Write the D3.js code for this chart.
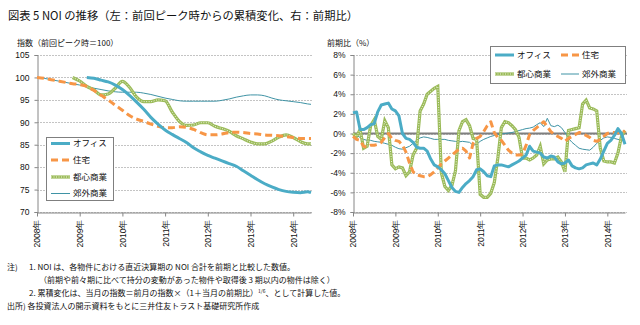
<!DOCTYPE html>
<html lang="ja">
<head>
<meta charset="utf-8">
<script src="https://cdn.jsdelivr.net/npm/d3@7"></script>
<style>
  html, body { margin: 0; padding: 0; background: #fff; }
  svg { display: block; }
  text { font-family: 'Noto Sans CJK JP', sans-serif; fill: #111; }
  .num text, text.num { font-family: 'Liberation Sans', Arial, sans-serif; }
  .note { font-family: 'Liberation Serif', 'Noto Sans CJK JP', serif; }
</style>
</head>
<body>
<div class="js-container"></div>
<script>
;(function() {
  'use strict';

  // month index: 0 = 2008年1月
  var leftMonths = [0, 2, 4, 6, 8, 10, 12, 14, 16, 18, 20, 22, 24, 26, 28, 30, 32, 34, 36, 38,
                    40, 42, 44, 46, 48, 50, 52, 54, 56, 58, 60, 62, 64, 66, 68, 70, 72, 74, 76, 77];
  var rightMonths = d3.range(78);

  var yearMonths = [0, 12, 24, 36, 48, 60, 72];
  var yearLabels = ['2008年', '2009年', '2010年', '2011年', '2012年', '2013年', '2014年'];

  var seriesNames = ['オフィス', '住宅', '都心商業', '郊外商業'];

  // 累積変化の指数（前回ピーク時＝100）
  var officeIdx = [null, null, null, null, null, null, null, 100.0, 99.8, 99.4, 99.0, 98.3, 97.3, 96.0, 94.5, 92.9, 91.1, 89.6, 88.3, 87.3,
                   86.4, 85.5, 84.3, 83.4, 82.6, 82.0, 81.4, 80.8, 80.2, 79.2, 78.2, 77.2, 76.3, 75.6, 75.0, 74.6, 74.4, 74.3, 74.5, 74.3];
  var residentialIdx = [100.0, 99.8, 99.5, 99.2, 98.9, 98.6, 98.4, 98.0, 97.1, 96.0, 95.0, 93.8, 92.7, 91.5, 90.7, 90.2, 89.6, 89.1, 88.8, 88.8,
                        89.0, 88.9, 88.4, 87.7, 87.2, 87.2, 87.4, 87.7, 87.8, 87.7, 87.5, 87.4, 87.2, 87.1, 87.0, 86.8, 86.6, 86.4, 86.4, 86.4];
  var urbanIdx = [null, null, null, null, null, 100.0, 99.2, 98.0, 97.2, 96.1, 96.3, 97.6, 99.1, 97.8, 95.6, 94.6, 94.6, 95.0, 94.8, 92.3,
                  90.2, 89.3, 89.4, 89.9, 89.9, 89.1, 88.6, 88.0, 87.0, 86.3, 85.6, 85.2, 85.2, 85.8, 86.7, 87.2, 86.6, 85.7, 85.2, 85.2];
  var suburbanIdx = [100.0, 99.8, 99.5, 99.2, 98.9, 98.6, 98.3, 98.0, 97.6, 97.3, 97.0, 96.8, 96.7, 96.7, 96.7, 96.5, 96.2, 95.8, 95.4, 95.1,
                     94.8, 94.7, 94.7, 94.7, 94.7, 94.7, 94.9, 95.2, 95.6, 95.9, 96.1, 96.1, 95.9, 95.4, 95.0, 94.8, 94.6, 94.4, 94.1, 94.0];

  // 前期比（%）
  var officeChg = [2.1, 2.2, 0.4, 0.4, 0.6, 0.9, 1.0, 2.2, 2.9, 3.0, 3.1, 2.5, 2.3, 1.8, 0.0, -0.5, -0.6, -0.9, -1.4, -1.5,
                   -1.5, -1.8, -2.6, -3.2, -3.4, -3.7, -4.1, -4.8, -5.5, -5.9, -6.0, -5.5, -5.1, -4.8, -4.4, -3.7, -3.6, -3.9, -4.3, -4.4,
                   -3.3, -3.2, -3.2, -3.3, -3.4, -3.2, -3.0, -2.8, -2.5, -2.2, -1.3, -1.8, -1.9, -2.0, -2.4, -2.5, -2.3, -2.4, -2.9, -3.1,
                   -3.0, -2.7, -3.3, -3.5, -3.6, -3.5, -3.2, -3.1, -3.0, -3.2, -2.6, -1.8, -1.0, -0.7, -0.2, 0.5, 0.0, -1.1];
  var residentialChg = [-0.3, -0.6, -0.7, -1.3, -1.4, -1.2, -1.2, -1.1, -0.9, -0.4, 0.0, -0.5, -0.7, -0.8, -1.2, -1.9, -3.0, -3.9, -4.2, -4.3,
                        -4.4, -4.4, -4.2, -3.9, -3.5, -3.1, -2.8, -2.5, -2.2, -1.9, -1.6, -1.5, -1.8, -2.5, -1.0, -0.5, -0.3, 0.2, 0.8, 1.2,
                        0.1, -0.4, -0.7, -1.2, -1.7, -2.0, -2.2, -2.2, -2.1, -1.2, -0.1, 0.3, 0.6, 0.9, 1.2, 0.7, 0.2, -0.1, -0.3, -0.5,
                        -0.8, -0.5, -0.3, -0.1, 0.1, 0.0, -0.2, -0.4, -0.7, -0.8, -0.6, -0.3, 0.0, 0.1, 0.1, 0.1, 0.0, 0.3];
  var urbanChg = [0.0, -0.3, 0.4, -1.5, -1.3, 0.8, 1.4, -0.3, -0.6, 1.3, 0.6, -3.2, -3.6, -3.4, -3.5, -4.3, -3.9, -2.2, -1.5, 2.3,
                  3.0, 4.0, 4.3, 4.6, 4.8, -4.0, -5.4, -5.8, -5.3, -3.8, 0.3, 1.2, 1.4, 0.8, -0.5, -0.6, -6.2, -6.5, -6.5, -6.1,
                  -5.0, -2.5, 0.6, 1.2, 1.1, 0.8, 0.4, -0.4, -2.5, -2.5, -2.7, -2.5, -2.2, -1.3, -3.1, -2.7, -2.6, -2.6, -2.4, -2.9,
                  -3.9, 0.3, 0.4, 0.5, 0.6, 3.0, 3.4, 2.6, 2.5, 2.3, -1.5, -2.8, -2.9, -2.9, -3.0, -2.0, -0.3, 0.3];
  var suburbanChg = [0.0, -0.2, -0.4, -0.6, -0.7, -0.7, -0.8, -0.85, -0.9, -1.0, -1.1, -1.2, -1.4, -1.55, -1.6, -1.45, -1.3, -1.0, -0.7, -0.45,
                     -0.35, -0.4, -0.5, -0.6, -0.6, -0.6, -0.6, -0.7, -0.75, -0.8, -0.85, -0.8, -0.85, -0.9, -1.2, -1.1, -0.8, -0.6, -0.45, -0.3,
                     -0.2, -0.1, -0.05, 0.0, 0.05, 0.1, 0.2, 0.3, 0.4, 0.5, 0.55, 0.65, 0.9, 1.1, 0.7, 1.55, 0.8, 0.7, 0.85, 0.6,
                     0.1, -0.5, -0.9, -1.2, -1.5, -1.6, -1.65, -1.7, -1.4, -1.0, -0.7, -0.45, -0.35, -0.4, -0.5, -0.6, -0.7, -0.8];

  var leftTicks = [70, 75, 80, 85, 90, 95, 100, 105];
  var rightTicks = [-8, -6, -4, -2, 0, 2, 4, 6, 8];

  var W = 640, H = 325;

  var colors = ['#4bacc6', '#f79646', '#9bbb59', '#3f93a5'];

  var svg = d3.select('.js-container').append('svg')
              .attr('width', W)
              .attr('height', H);

  svg.append('text')
      .attr('x', 8)
      .attr('y', 20)
      .style('font-size', '11.3px')
      .text('図表 5  NOI の推移（左：前回ピーク時からの累積変化、右：前期比）');

  /**
   * Styles one series path: thick solid, dashed, dotted (double stroke) or thin.
   */
  function drawSeries(g, idx, pathData) {
    if (idx === 2) {
      g.append('path').attr('d', pathData)
          .attr('fill', 'none').attr('stroke', colors[2]).attr('stroke-width', 3.2);
      g.append('path').attr('d', pathData)
          .attr('fill', 'none').attr('stroke', '#eef4e0').attr('stroke-width', 1)
          .attr('stroke-dasharray', '1,1.5');
      return;
    }
    var p = g.append('path').attr('d', pathData)
        .attr('fill', 'none')
        .attr('stroke', colors[idx])
        .attr('stroke-linejoin', 'round')
        .attr('stroke-width', idx === 3 ? 1 : 3);
    if (idx === 1) p.attr('stroke-dasharray', '7,4');
  }

  /**
   * Draws one panel: gridlines, axes, series.
   */
  function drawPanel(opt) {
    var x = d3.scaleLinear().domain([0, 77]).range(opt.xRange);
    var y = d3.scaleLinear().domain(opt.yDomain).range([212, 55]);
    var g = svg.append('g');

    g.selectAll('.grid').data(opt.ticks)
      .enter().append('line')
        .attr('x1', opt.xRange[0]).attr('x2', opt.xRange[1] + 2)
        .attr('y1', function(d) { return Math.round(y(d)) + 0.5; })
        .attr('y2', function(d) { return Math.round(y(d)) + 0.5; })
        .attr('stroke', '#c4c4c4')
        .attr('stroke-dasharray', '2,1');

    var yAxis = g.append('g')
        .attr('class', 'num')
        .attr('transform', 'translate(' + (opt.xRange[0] + 0.5) + ',0)')
        .call(d3.axisLeft(y).tickValues(opt.ticks).tickSize(3).tickPadding(5).tickFormat(opt.fmt));
    yAxis.selectAll('text').style('font-size', '8.5px').attr('fill', '#111');
    yAxis.selectAll('line, path').attr('stroke', '#868686');

    var xAxis = g.append('g')
        .attr('class', 'num')
        .attr('transform', 'translate(0,212.5)')
        .call(d3.axisBottom(x).tickValues(yearMonths).tickSize(4).tickSizeOuter(0)
                .tickFormat(function(d, i) { return yearLabels[i]; }));
    xAxis.selectAll('line, path').attr('stroke', '#868686');
    xAxis.selectAll('text')
        .style('font-size', '8.5px')
        .attr('fill', '#111')
        .attr('text-anchor', 'end')
        .attr('transform', 'translate(0,7) rotate(-90)')
        .attr('x', 0).attr('y', 0).attr('dy', '0.35em');

    if (opt.zeroLine) {
      g.append('line')
          .attr('x1', opt.xRange[0]).attr('x2', opt.xRange[1] + 2)
          .attr('y1', y(0)).attr('y2', y(0))
          .attr('stroke', '#7f7f7f').attr('stroke-width', 2);
    }

    // back to front: suburban, urban, residential, office
    [3, 2, 1, 0].forEach(function(i) {
      var line = d3.line()
          .defined(function(d) { return d[1] != null; })
          .x(function(d) { return x(d[0]); })
          .y(function(d) { return y(d[1]); });
      if (opt.smooth) line.curve(d3.curveMonotoneX);
      var pts = opt.months.map(function(m, k) { return [m, opt.series[i][k]]; });
      drawSeries(g, i, line(pts));
    });

    g.append('text')
        .attr('x', opt.titleX).attr('y', 46)
        .style('font-size', '8px')
        .text(opt.title);
    return g;
  }

  drawPanel({
    xRange: [37, 311],
    yDomain: [70, 105],
    ticks: leftTicks,
    fmt: function(d) { return d; },
    months: leftMonths,
    series: [officeIdx, residentialIdx, urbanIdx, suburbanIdx],
    smooth: true,
    title: '指数（前回ピーク時＝100）',
    titleX: 17
  });

  drawPanel({
    xRange: [353, 625],
    yDomain: [-8, 8],
    ticks: rightTicks,
    fmt: function(d) { return d + '%'; },
    months: rightMonths,
    series: [officeChg, residentialChg, urbanChg, suburbanChg],
    smooth: false,
    zeroLine: true,
    title: '前期比（%）',
    titleX: 327
  });

  /**
   * Legend sample line plus label.
   */
  function legendItem(g, i, x1, x2, yy) {
    drawSeries(g, i, 'M' + x1 + ',' + yy + 'L' + x2 + ',' + yy);
    g.append('text')
        .attr('x', x2 + 3).attr('y', yy)
        .attr('dy', '0.35em')
        .style('font-size', '8.5px')
        .text(seriesNames[i]);
  }

  // left legend: one column
  var lg = svg.append('g');
  lg.append('rect')
      .attr('x', 46.5).attr('y', 137.5).attr('width', 67).attr('height', 63)
      .attr('fill', '#fff').attr('stroke', '#7f7f7f');
  [143.5, 160, 177, 193.5].forEach(function(yy, i) {
    legendItem(lg, i, 51, 70, yy);
  });

  // right legend: two columns
  var rg = svg.append('g');
  rg.append('rect')
      .attr('x', 490.5).attr('y', 46.5).attr('width', 135).attr('height', 37)
      .attr('fill', '#fff').attr('stroke', '#7f7f7f');
  legendItem(rg, 0, 495, 514, 55);
  legendItem(rg, 1, 561, 579, 55);
  legendItem(rg, 2, 495, 514, 74);
  legendItem(rg, 3, 561, 579, 74);

  // notes
  var notes = svg.append('g').attr('class', 'note').style('font-size', '8px');
  notes.append('text').attr('x', 7).attr('y', 270).text('注)');
  notes.append('text').attr('x', 29).attr('y', 270)
      .text('1. NOI は、各物件における直近決算期の NOI 合計を前期と比較した数値。');
  notes.append('text').attr('x', 39).attr('y', 283)
      .text('（前期や前々期に比べて持分の変動があった物件や取得後 3 期以内の物件は除く）');
  var n3 = notes.append('text').attr('x', 29).attr('y', 296);
  n3.append('tspan').text('2. 累積変化は、当月の指数＝前月の指数×（1＋当月の前期比）');
  n3.append('tspan').attr('dy', -3).style('font-size', '5px').text('1/6');
  n3.append('tspan').attr('dy', 3).text('、として計算した値。');
  notes.append('text').attr('x', 7).attr('y', 309)
      .text('出所) 各投資法人の開示資料をもとに三井住友トラスト基礎研究所作成');

}());
</script>
</body>
</html>
